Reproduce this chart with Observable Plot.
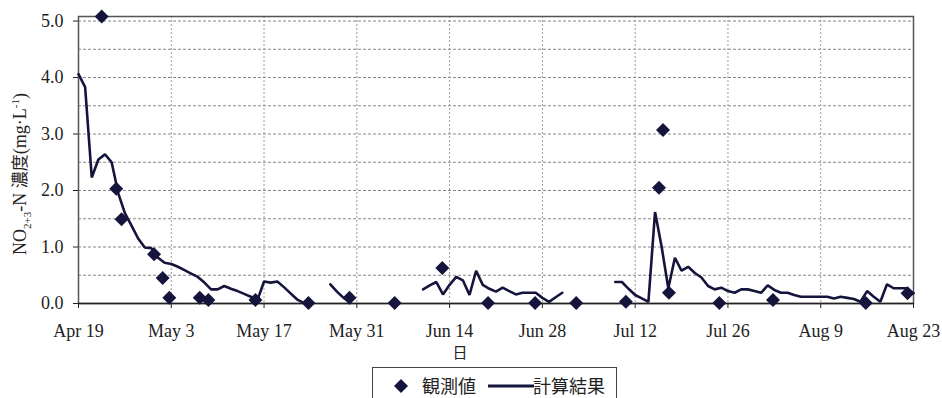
<!DOCTYPE html>
<html><head><meta charset="utf-8">
<script src="https://cdn.jsdelivr.net/npm/d3@7"></script>
<script src="https://cdn.jsdelivr.net/npm/@observablehq/plot@0.6"></script>
<style>
html,body{margin:0;padding:0;background:#fff;}
body{width:942px;height:398px;overflow:hidden;position:relative;font-family:"Liberation Serif","DejaVu Serif","Noto Serif","FreeSerif","Noto Serif CJK JP",serif;color:#222;}
#legend{position:absolute;left:372px;top:367px;width:245px;height:44px;border:1px solid #444;box-sizing:border-box;background:#fff;}
#legend .it{position:absolute;top:7px;font-family:"Noto Sans CJK JP",sans-serif;font-size:18px;line-height:20px;color:#222;}
</style></head>
<body>
<div id="chart"></div>
<div id="legend">
  <svg style="position:absolute;left:20px;top:10px" width="16" height="16"><path d="M8,1L15,8L8,15L1,8Z" fill="#14143c"/></svg>
  <span class="it" style="left:49px">観測値</span>
  <svg style="position:absolute;left:115px;top:15px" width="46" height="6"><line x1="0" y1="3" x2="46" y2="3" stroke="#14143c" stroke-width="3"/></svg>
  <span class="it" style="left:160px">計算結果</span>
</div>
<script>
// x-axis ticks (every 14 days) and labels
const xTickDays = [0, 14, 28, 42, 56, 70, 84, 98, 112, 126];
const xTickLabels = ["Apr 19","May 3","May 17","May 31","Jun 14","Jun 28","Jul 12","Jul 26","Aug 9","Aug 23"];
const yTicks = [0, 1, 2, 3, 4, 5];
const yGrid = [0.5, 1, 1.5, 2, 2.5, 3, 3.5, 4, 4.5, 5];

// observed values (観測値): day since Apr 19, concentration
const obsDay = [3.5, 5.7, 6.5, 11.4, 12.7, 13.7, 18.3, 19.6, 26.7, 34.7, 40.9, 47.7, 54.9, 61.8, 68.9, 75.1, 82.6, 87.6, 88.2, 89.1, 96.7, 104.8, 118.8, 125.1];
const obsVal = [5.08, 2.03, 1.49, 0.87, 0.45, 0.10, 0.10, 0.06, 0.06, 0.01, 0.10, 0.01, 0.63, 0.01, 0.01, 0.01, 0.03, 2.05, 3.07, 0.19, 0.01, 0.06, 0.01, 0.18];

// computed values (計算結果): day, value, segment
const calcDay = [0,1,2,3,4,5,6,7,8,9,10,11,12,13,14,15,16,17,18,19,20,21,22,23,24,25,26,27,28,29,30,31,32,33,34,
  38,39,40,41,
  52,53,54,55,56,57,58,59,60,61,62,63,64,65,66,67,68,69,70,71,72,73,
  81,82,83,84,85,86,87,88,89,90,91,92,93,94,95,96,97,98,99,100,101,102,103,104,105,106,107,108,109,110,111,112,113,114,115,116,117,118,119,120,121,122,123,124,125,126];
const calcVal = [4.06,3.83,2.23,2.55,2.64,2.50,1.95,1.60,1.38,1.15,0.99,0.98,0.81,0.72,0.70,0.65,0.59,0.53,0.47,0.37,0.25,0.25,0.31,0.26,0.22,0.17,0.12,0.06,0.39,0.37,0.39,0.29,0.18,0.07,0.01,
  0.34,0.21,0.10,0.03,
  0.25,0.32,0.38,0.16,0.33,0.47,0.41,0.15,0.58,0.33,0.26,0.21,0.28,0.22,0.16,0.19,0.19,0.19,0.10,0.03,0.11,0.19,
  0.38,0.38,0.26,0.15,0.09,0.03,1.62,1.00,0.27,0.81,0.58,0.65,0.54,0.46,0.31,0.25,0.28,0.22,0.19,0.25,0.25,0.22,0.19,0.32,0.24,0.19,0.19,0.15,0.12,0.12,0.12,0.12,0.12,0.09,0.12,0.10,0.08,0.03,0.22,0.12,0.03,0.34,0.27,0.27,0.27,0.18];
const calcSeg = calcDay.map(d => d <= 34 ? 0 : d <= 41 ? 1 : d <= 73 ? 2 : 3);

const base = Date.UTC(2005, 3, 19);
const toDate = d => new Date(base + d * 864e5);
const xTicks = xTickDays.map(toDate);
const labelOf = d => xTickLabels[xTicks.findIndex(t => +t === +d)];

const obs = obsDay.map((d, i) => ({date: toDate(d), v: obsVal[i]}));
const calc = calcDay.map((d, i) => ({date: toDate(d), v: calcVal[i], seg: calcSeg[i]}));

const serif = "'Liberation Serif','DejaVu Serif','Noto Serif','FreeSerif','Noto Serif CJK JP',serif";
const ink = "#14143c";
const chart = Plot.plot({
  width: 942, height: 365,
  marginLeft: 78, marginRight: 29, marginTop: 16, marginBottom: 62,
  style: "font-family: " + serif + "; font-size: 18px; color: #222; background: #fff;",
  x: {type: "utc", domain: [toDate(0), toDate(126)]},
  y: {domain: [0, 5.08]},
  marks: [
    Plot.ruleY(yGrid, {stroke: "#888", strokeWidth: 1, strokeDasharray: "3,2"}),
    Plot.ruleX(xTicks, {stroke: "#999", strokeWidth: 1, strokeDasharray: "2,2"}),
    Plot.frame({stroke: "#555", strokeWidth: 1.5}),
    Plot.ruleY([0], {stroke: "#222", strokeWidth: 1.5}),
    Plot.axisX(xTicks, {tickFormat: labelOf, tickSize: 5, tickPadding: 16, label: null, fontSize: 18}),
    Plot.axisY(yTicks, {tickFormat: d3.format(".1f"), tickSize: 5, tickPadding: 10, label: null, fontSize: 18}),
    Plot.line(calc, {x: "date", y: "v", z: "seg", stroke: ink, strokeWidth: 2.6, strokeLinejoin: "miter"}),
    Plot.dot(obs, {x: "date", y: "v", symbol: "diamond2", r: 6.3, fill: ink, stroke: "none"})
  ]
});
document.getElementById("chart").appendChild(chart);

const svg = d3.select(chart);
svg.selectAll("text").style("font-family", serif);
// y-axis title
const t = svg.append("text")
  .attr("transform", "translate(26,174) rotate(-90)")
  .attr("text-anchor", "middle")
  .attr("fill", "#222")
  .style("font-family", serif)
  .style("font-size", "18px");
t.append("tspan").text("NO");
t.append("tspan").attr("dy", 5).style("font-size", "11px").text("2+3");
t.append("tspan").attr("dy", -5).text("-N ");
t.append("tspan").style("font-family", "'Noto Sans CJK JP'").style("font-size", "17px").text("濃度");
t.append("tspan").text("(mg·L");
t.append("tspan").attr("dy", -7).style("font-size", "11px").text("-1");
t.append("tspan").attr("dy", 7).text(")");
// x-axis title
svg.append("text")
  .attr("x", 460).attr("y", 358)
  .attr("text-anchor", "middle")
  .attr("fill", "#222")
  .style("font-family", "'Noto Sans CJK JP'")
  .style("font-size", "15px")
  .text("日");
</script>
</body></html>
